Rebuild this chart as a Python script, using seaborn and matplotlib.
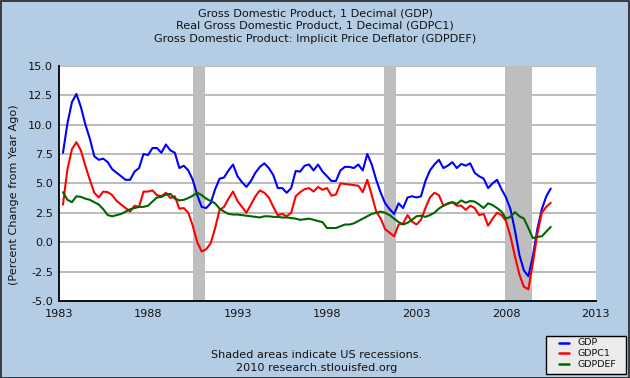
import matplotlib
matplotlib.use("Agg")
import matplotlib.pyplot as plt
import seaborn as sns
import pandas as pd
import numpy as np
from matplotlib.lines import Line2D
from matplotlib.patches import Rectangle

# ---- data (quarterly, percent change from year ago) ----
start_year = 1983.25
gdp = [
    7.6, 10.1, 11.9,                 # 1983 Q2-Q4
    12.6, 11.5, 10.0, 8.8,           # 1984
    7.3, 7.0, 7.1, 6.8,              # 1985
    6.2, 5.9, 5.6, 5.3,              # 1986
    5.3, 6.0, 6.3, 7.5,              # 1987
    7.4, 8.0, 8.0, 7.6,              # 1988
    8.3, 7.8, 7.6, 6.3,              # 1989
    6.5, 6.1, 5.3, 4.0,              # 1990
    3.0, 2.9, 3.3, 4.5,              # 1991
    5.4, 5.5, 6.1, 6.6,              # 1992
    5.6, 5.1, 4.7, 5.2,              # 1993
    5.9, 6.4, 6.7, 6.3,              # 1994
    5.7, 4.6, 4.6, 4.2,              # 1995
    4.6, 6.05, 6.0, 6.5,             # 1996
    6.6, 6.1, 6.6, 6.0,              # 1997
    5.6, 5.2, 5.2, 6.1,              # 1998
    6.4, 6.4, 6.3, 6.6,              # 1999
    6.1, 7.5, 6.6, 5.3,              # 2000
    4.2, 3.3, 2.8, 2.4,              # 2001
    3.3, 2.9, 3.8, 3.9,              # 2002
    3.8, 3.9, 5.2, 6.1,              # 2003
    6.6, 7.0, 6.3, 6.5,              # 2004
    6.8, 6.3, 6.65, 6.5,             # 2005
    6.7, 5.9, 5.6, 5.4,              # 2006
    4.6, 5.0, 5.3, 4.5,              # 2007
    3.8, 2.8, 1.0, -1.1,             # 2008
    -2.4, -2.9, -1.2, 1.1,           # 2009
    2.8, 3.9, 4.55,                  # 2010 Q1-Q3
]
gdpc1 = [
    3.2, 6.2, 7.9,
    8.5, 7.8, 6.5, 5.3,
    4.2, 3.8, 4.3, 4.25,
    4.0, 3.5, 3.2, 2.9,
    2.6, 3.1, 3.0, 4.3,
    4.3, 4.4, 4.0, 3.9,
    4.2, 3.75, 3.9, 2.85,
    2.9, 2.5, 1.4, 0.0,
    -0.8, -0.6, -0.1, 1.2,
    2.75, 3.0, 3.7, 4.3,
    3.5, 3.0, 2.5, 3.2,
    3.9, 4.4, 4.2, 3.8,
    3.0, 2.3, 2.4, 2.2,
    2.5, 3.9, 4.25, 4.5,
    4.6, 4.3, 4.7, 4.45,
    4.6, 3.95, 4.05, 5.0,
    4.95, 4.9, 4.85, 4.8,
    4.25, 5.3, 4.0, 2.6,
    2.0, 1.1, 0.8, 0.5,
    1.5, 1.6, 2.3, 1.75,
    1.5, 1.9, 2.9, 3.8,
    4.2, 4.0, 3.1, 3.25,
    3.4, 3.1, 3.1, 2.75,
    3.1, 2.9, 2.3, 2.4,
    1.4, 2.0, 2.5, 2.3,
    1.8, 0.5, -1.2, -2.75,
    -3.8, -4.0, -1.8, 0.7,
    2.5, 3.0, 3.35,
]
gdpdef = [
    4.25, 3.6, 3.4,
    3.9, 3.85, 3.7, 3.6,
    3.4, 3.2, 2.8, 2.3,
    2.2, 2.3, 2.4, 2.6,
    2.8, 2.9, 3.0, 3.0,
    3.1, 3.45, 3.8, 3.85,
    4.05, 4.1, 3.7, 3.55,
    3.6, 3.75, 3.95, 4.2,
    4.0, 3.7, 3.5, 3.3,
    2.85, 2.6, 2.4, 2.35,
    2.35, 2.3, 2.25, 2.2,
    2.15, 2.1, 2.2, 2.2,
    2.15, 2.15, 2.1, 2.1,
    2.05, 2.0, 1.9, 1.95,
    2.0, 1.9, 1.8, 1.7,
    1.2, 1.2, 1.2, 1.35,
    1.5, 1.5, 1.6, 1.8,
    2.0, 2.2, 2.4, 2.5,
    2.6, 2.5, 2.3, 2.0,
    1.7, 1.5, 1.65, 1.9,
    2.2, 2.25, 2.15, 2.3,
    2.5, 2.85, 3.1, 3.3,
    3.4, 3.25, 3.55, 3.35,
    3.5, 3.45, 3.2, 2.9,
    3.3, 3.15, 2.9, 2.6,
    2.0, 2.15, 2.55, 2.2,
    2.0, 1.2, 0.35, 0.45,
    0.5, 0.9, 1.3,
]
series_names = ["GDP", "GDPC1", "GDPDEF"]
series_colors = ["#0000FF", "#FF0000", "#006400"]
recessions = [(1990.5, 1991.2), (2001.2, 2001.85), (2007.92, 2009.45)]
x_ticks = [1983, 1988, 1993, 1998, 2003, 2008, 2013]
y_ticks = [-5.0, -2.5, 0.0, 2.5, 5.0, 7.5, 10.0, 12.5, 15.0]
title_lines = [
    "Gross Domestic Product, 1 Decimal (GDP)",
    "Real Gross Domestic Product, 1 Decimal (GDPC1)",
    "Gross Domestic Product: Implicit Price Deflator (GDPDEF)",
]
y_label = "(Percent Change from Year Ago)"
note_lines = ["Shaded areas indicate US recessions.", "2010 research.stlouisfed.org"]

# ---- build long-form frame ----
frames = []
for name, vals in zip(series_names, [gdp, gdpc1, gdpdef]):
    t = start_year + 0.25 * np.arange(len(vals))
    frames.append(pd.DataFrame({"date": t, "value": vals, "series": name}))
df = pd.concat(frames, ignore_index=True)

sns.set_theme(style="white")
plt.rcParams["font.family"] = ["DejaVu Sans"]
BG = "#B4CDE4"
FS = 8.1

fig = plt.figure(figsize=(6.3, 3.78), dpi=100, facecolor=BG)
ax = fig.add_axes([58.5 / 630, 1 - 301 / 378, (595.5 - 58.5) / 630, (301 - 65.7) / 378])
ax.set_facecolor("white")

for a, b in recessions:
    ax.axvspan(a, b, color="#BEBEBE", lw=0, zorder=1)

ax.set_ylim(-5, 15)
ax.set_xlim(1983, 2013)
ax.set_yticks(y_ticks)
ax.set_xticks(x_ticks)
ax.set_yticklabels([f"{v:.1f}" for v in y_ticks])
ax.yaxis.grid(True, color="#A8A8A8", lw=1.1, zorder=0)
ax.xaxis.grid(False)
ax.set_axisbelow(True)

sns.lineplot(data=df, x="date", y="value", hue="series", hue_order=series_names,
             palette=dict(zip(series_names, series_colors)), lw=1.5,
             legend=False, ax=ax, zorder=3)

ax.set_xlabel("")
ax.set_ylabel("")
for s in ["top", "right"]:
    ax.spines[s].set_visible(False)
for s in ["left", "bottom"]:
    ax.spines[s].set_color("black")
    ax.spines[s].set_linewidth(1.3)
ax.tick_params(axis="both", direction="in", length=4, width=1, color="black",
               labelsize=FS, labelcolor="#111111", pad=4)
ax.tick_params(axis="x", pad=6)

# titles
for i, line in enumerate(title_lines):
    fig.text(315 / 630, 1 - (13 + 13 * i) / 378, line, ha="center", va="center",
             fontsize=FS, color="#111111")
fig.text(14 / 630, 1 - 195 / 378, y_label, rotation=90, ha="center", va="center",
         fontsize=FS, color="#111111")
for i, line in enumerate(note_lines):
    fig.text(317 / 630, 1 - (355 + 13 * i) / 378, line, ha="center", va="center",
             fontsize=FS, color="#111111")

# legend box
fig.patches.append(Rectangle((546 / 630, 1 - 374 / 378), 80 / 630, 38.5 / 378,
                             transform=fig.transFigure, facecolor="#EBEBEB",
                             edgecolor="black", lw=1.0))
for i, (name, col) in enumerate(zip(series_names, series_colors)):
    yy = 1 - (342.5 + 10.8 * i) / 378
    fig.lines.append(Line2D([559 / 630, 569 / 630], [yy, yy], transform=fig.transFigure,
                            color=col, lw=1.8))
    fig.text(578 / 630, yy, name, ha="left", va="center", fontsize=6.8, color="#111111")

# outer border
fig.patches.append(Rectangle((0.001, 0.001), 0.997, 0.996, transform=fig.transFigure,
                             facecolor="none", edgecolor="#222222", lw=1.2))

fig.savefig("out.png", dpi=100, facecolor=BG)
